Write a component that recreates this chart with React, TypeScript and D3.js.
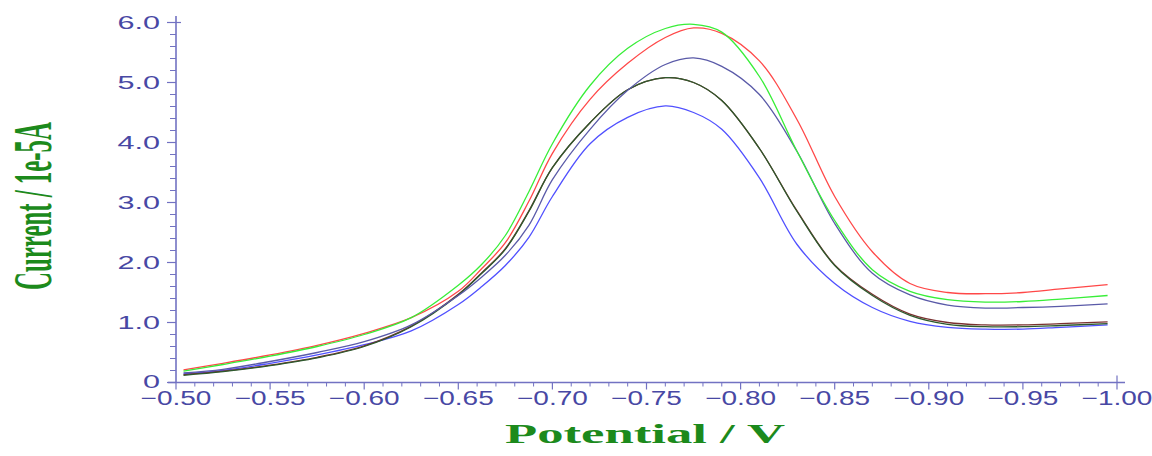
import * as d3 from 'd3';
import React from 'react';

// potential (V) sampled along the scan, and current (1e-5 A) for each trace
const potential = [-0.504, -0.525, -0.55, -0.575, -0.6, -0.625, -0.65, -0.6625, -0.675, -0.6875, -0.7, -0.72,
  -0.74, -0.76, -0.775, -0.79, -0.81, -0.83, -0.85, -0.87, -0.89, -0.91, -0.93, -0.95, -0.97, -0.995];

const greenTrace = [0.19, 0.3, 0.44, 0.6, 0.8, 1.08, 1.62, 1.97, 2.45, 3.18, 3.98, 4.95,
  5.57, 5.9, 5.97, 5.84, 5.1, 3.85, 2.7, 1.88, 1.52, 1.38, 1.34, 1.35, 1.39, 1.45];
const redTrace = [0.21, 0.32, 0.46, 0.62, 0.82, 1.08, 1.52, 1.9, 2.33, 3.02, 3.82, 4.72,
  5.32, 5.75, 5.91, 5.82, 5.36, 4.38, 3.1, 2.18, 1.65, 1.5, 1.48, 1.5, 1.56, 1.63];
const slateTrace = [0.16, 0.22, 0.35, 0.5, 0.68, 0.96, 1.45, 1.76, 2.12, 2.62, 3.38, 4.22,
  4.87, 5.3, 5.41, 5.27, 4.8, 3.85, 2.65, 1.82, 1.46, 1.29, 1.24, 1.25, 1.27, 1.31];
const brownTrace = [0.13, 0.19, 0.29, 0.42, 0.61, 0.94, 1.47, 1.83, 2.23, 2.86, 3.58, 4.33,
  4.88, 5.08, 5.0, 4.7, 3.9, 2.86, 1.96, 1.47, 1.14, 1.0, 0.96, 0.96, 0.98, 1.01];
const darkGreenTrace = [0.12, 0.18, 0.28, 0.41, 0.6, 0.93, 1.46, 1.82, 2.22, 2.85, 3.58, 4.33,
  4.88, 5.08, 5.0, 4.7, 3.9, 2.85, 1.95, 1.45, 1.12, 0.97, 0.93, 0.93, 0.95, 0.98];
const blueTrace = [0.145, 0.2, 0.32, 0.46, 0.63, 0.86, 1.3, 1.6, 1.95, 2.42, 3.1, 3.98,
  4.42, 4.61, 4.5, 4.22, 3.41, 2.3, 1.65, 1.25, 1.02, 0.92, 0.89, 0.89, 0.92, 0.96];

const traces = [
  { values: blueTrace, color: '#5050ff' },
  { values: brownTrace, color: '#7a3030' },
  { values: darkGreenTrace, color: '#2d5a2d' },
  { values: slateTrace, color: '#5a5aa8' },
  { values: redTrace, color: '#ff4848' },
  { values: greenTrace, color: '#38ee38' },
];

const xMajor = d3.range(0, 11).map(i => -0.5 - i * 0.05);
const xMinor = d3.range(0, 51).filter(i => i % 5 !== 0).map(i => -0.5 - i * 0.01);
const yMajor = d3.range(0, 7);
const yMinor = d3.range(0, 31).filter(i => i % 5 !== 0).map(i => i * 0.2);

const axisColor = '#7272c2';
const labelColor = '#4848a4';
const titleColor = '#1c8a1c';

export default function App() {
  const width = 1152;
  const height = 456;

  const x = d3.scaleLinear().domain([-0.5, -1.0]).range([176, 1117]);
  const y = d3.scaleLinear().domain([0, 6]).range([382.5, 22.5]);

  const line = d3.line<number>()
    .x((d, i) => x(potential[i]))
    .y(d => y(d))
    .curve(d3.curveCatmullRom.alpha(0.5));

  const fmtX = d3.format('.2f');
  const fmtY = (v: number) => (v === 0 ? '0' : d3.format('.1f')(v));

  const x0 = x(-0.5);
  const y0 = y(0);

  return (
    <svg width={width} height={height} style={{ position: 'absolute', left: 0, top: 0, background: '#fff' }}>
      {/* traces */}
      {traces.map((t, k) => (
        <path key={k} d={line(t.values) || ''} fill="none" stroke={t.color} strokeWidth={1.3} />
      ))}

      {/* y axis */}
      <line x1={x0} x2={x0} y1={16} y2={y0} stroke={axisColor} strokeWidth={1.6} />
      {yMinor.map(v => (
        <line key={'ym' + v} x1={x0 - 6} x2={x0} y1={y(v)} y2={y(v)} stroke={axisColor} strokeWidth={1} />
      ))}
      {yMajor.map(v => (
        <g key={'y' + v}>
          <line x1={x0 - 9} x2={v === 6 ? x0 + 5 : x0} y1={y(v)} y2={y(v)} stroke={axisColor} strokeWidth={1.2} />
          <text transform={`translate(160,${v === 0 ? y(v) - 1 : y(v)}) scale(1.7,1)`} dy="0.36em" textAnchor="end"
            fontFamily="'Liberation Sans', Arial, sans-serif" fontSize={18} fill={labelColor}>
            {fmtY(v)}
          </text>
        </g>
      ))}

      {/* x axis */}
      <line x1={x0 - 8} x2={1125} y1={y0} y2={y0} stroke={axisColor} strokeWidth={1.6} />
      {xMinor.map(v => (
        <line key={'xm' + v} x1={x(v)} x2={x(v)} y1={y0} y2={y0 + 4} stroke={axisColor} strokeWidth={1} />
      ))}
      {xMajor.map((v, i) => (
        <g key={'x' + i}>
          <line x1={x(v)} x2={x(v)} y1={i === 10 ? y0 - 7 : y0} y2={y0 + 7} stroke={axisColor} strokeWidth={1.2} />
          <text transform={`translate(${x(v)},405) scale(1.4,1)`} textAnchor="middle"
            fontFamily="'Liberation Sans', Arial, sans-serif" fontSize={20} fill={labelColor}>
            {fmtX(v)}
          </text>
        </g>
      ))}

      {/* axis titles */}
      <text x={645} y={443} textAnchor="middle" fontFamily="'Liberation Serif', 'Times New Roman', serif"
        fontWeight="bold" fontSize={27} fill={titleColor} textLength={280} lengthAdjust="spacingAndGlyphs">
        Potential / V
      </text>
      <text transform="translate(51,206) rotate(-90)" textAnchor="middle"
        fontFamily="'Liberation Serif', 'Times New Roman', serif" fontWeight="bold" fontSize={55}
        fill={titleColor} textLength={168} lengthAdjust="spacingAndGlyphs">
        Current / 1e-5A
      </text>
    </svg>
  );
}
